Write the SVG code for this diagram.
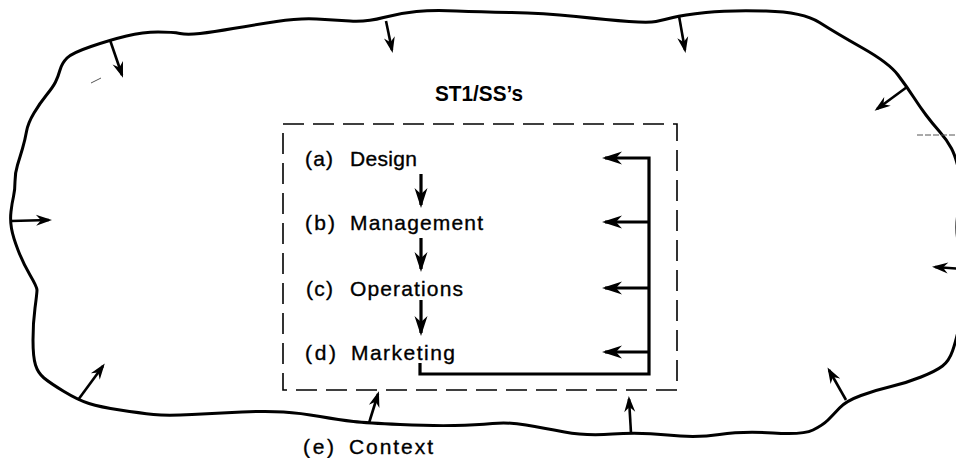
<svg xmlns="http://www.w3.org/2000/svg" width="956" height="458" viewBox="0 0 956 458">
  <style>
    .outline { fill: none; stroke: #000; stroke-width: 3; stroke-linejoin: round; stroke-linecap: round; }
    .boundary { fill: none; stroke: #000; stroke-width: 1.6; stroke-dasharray: 21 9; }
    .flow { fill: none; stroke: #000; stroke-width: 3.2; }
    .push { fill: none; stroke: #000; stroke-width: 2.6; }
    .lbl { font-family: "Liberation Sans", Arial, sans-serif; font-size: 21px; fill: #000; stroke: #000; stroke-width: 0.35; }
    .title { font-family: "Liberation Sans", Arial, sans-serif; font-size: 22px; font-weight: bold; fill: #000; }
    .speck { fill: none; stroke: #555; stroke-width: 1; }
  </style>
  <defs>
    <marker id="head" markerUnits="userSpaceOnUse" markerWidth="28" markerHeight="16" viewBox="-24 -8 28 16" refX="0" refY="0" orient="auto">
      <path d="M3,0 L-17,-6.5 L-11,0 L-17,6.5 Z" fill="#000"/>
    </marker>
    <marker id="headSmall" markerUnits="userSpaceOnUse" markerWidth="24" markerHeight="14" viewBox="-20 -7 24 14" refX="0" refY="0" orient="auto">
      <path d="M3,0 L-13,-5.5 L-8,0 L-13,5.5 Z" fill="#000"/>
    </marker>
  </defs>

  <!-- environment: the context boundary -->
  <g id="context">
    <path class="outline" d="M91,46.5 Q110,40 126.5,36 Q143,32 158,32 Q173,32 180,33.5 Q187,35 200,33.5 Q213,32 233,28.5 Q253,25 276.5,21.5 Q300,18 316.5,19 Q333,20 350,21 Q367,22 383.5,17.5 Q400,13 416.5,11.5 Q433,10 456.5,11 Q480,12 511.5,12.5 Q543,13 576,16.5 Q609,20 629,21.5 Q649,23 656,21.5 Q663,20 673,17.5 Q683,15 706,12.5 Q729,10 766,11 Q803,12 819.5,22.5 Q836,33 862.5,48 Q889,63 898,75 Q907,87 913.5,97 Q920,107 926,115 Q932,123 939.5,131.5 Q947,140 951.5,148.5 Q956,157 959.5,173.5 Q963,190 959,208 Q955,226 958.5,244 Q962,262 963,283.5 Q964,305 960,323 Q956,341 952.5,351 Q949,361 942.5,366 Q936,371 921,377 Q906,383 891,386.5 Q876,390 861,395.5 Q846,401 839.5,408 Q833,415 828,420 Q823,425 813,430 Q803,435 773,433 Q743,431 719.5,434.5 Q696,438 667.5,435 Q639,432 612.5,434 Q586,436 564.5,432 Q543,428 526,425 Q509,422 492.5,423.5 Q476,425 454.5,425.5 Q433,426 400,424.5 Q367,423 353.5,421.5 Q340,420 320,416.5 Q300,413 283.5,412 Q267,411 242,412 Q217,413 192,414.5 Q167,416 153.5,414.5 Q140,413 120,410 Q100,407 89,403.5 Q78,400 64,391.5 Q50,383 44,378 Q38,373 35.5,365 Q33,357 33,340 Q33,323 35,308 Q37,293 37,290 Q37,287 30,275 Q23,263 18,250 Q13,237 11.5,228.5 Q10,220 11,211.5 Q12,203 13.5,196.5 Q15,190 15,181.5 Q15,173 17.5,165 Q20,157 22.5,148.5 Q25,140 26.5,131.5 Q28,123 34,113 Q40,103 46.5,95 Q53,87 55.5,82 Q58,77 60,70 Q62,63 67,58 Q72,53 91,46.5 Z"/>
    <text class="lbl" x="303" y="454" textLength="31" lengthAdjust="spacing">(e)</text>
    <text class="lbl" x="349" y="454" textLength="84" lengthAdjust="spacing">Context</text>
  </g>

  <!-- the system boundary and its title -->
  <g id="system">
    <rect class="boundary" x="283" y="124" width="394" height="266"/>
    <text class="title" x="435" y="101" textLength="88" lengthAdjust="spacingAndGlyphs">ST1/SS’s</text>
  </g>

  <g id="design">
    <text class="lbl" x="305" y="166" textLength="28" lengthAdjust="spacing">(a)</text>
    <text class="lbl" x="350" y="166" textLength="67" lengthAdjust="spacing">Design</text>
  </g>
  <g id="management">
    <text class="lbl" x="305" y="230" textLength="30" lengthAdjust="spacing">(b)</text>
    <text class="lbl" x="350" y="230" textLength="133" lengthAdjust="spacing">Management</text>
  </g>
  <g id="operations">
    <text class="lbl" x="306" y="296" textLength="27" lengthAdjust="spacing">(c)</text>
    <text class="lbl" x="350" y="296" textLength="113" lengthAdjust="spacing">Operations</text>
  </g>
  <g id="marketing">
    <text class="lbl" x="305" y="360" textLength="31" lengthAdjust="spacing">(d)</text>
    <text class="lbl" x="351" y="360" textLength="104" lengthAdjust="spacing">Marketing</text>
  </g>

  <g id="connectors">
    <!-- stage to stage -->
    <line class="flow" x1="421" y1="174" x2="421" y2="205" marker-end="url(#head)"/>
    <line class="flow" x1="421" y1="238" x2="421" y2="269" marker-end="url(#head)"/>
    <line class="flow" x1="421" y1="300" x2="421" y2="333" marker-end="url(#head)"/>
    <!-- feedback from marketing to every stage -->
    <path class="flow" d="M420,363 V374 H649 V158 H605" marker-end="url(#head)"/>
    <line class="flow" x1="649" y1="222" x2="605" y2="222" marker-end="url(#head)"/>
    <line class="flow" x1="649" y1="288" x2="605" y2="288" marker-end="url(#head)"/>
    <line class="flow" x1="649" y1="352" x2="605" y2="352" marker-end="url(#head)"/>
    <!-- pressures from the context -->
    <line class="push" x1="110" y1="40" x2="122" y2="75" marker-end="url(#headSmall)"/>
    <line class="push" x1="386" y1="21" x2="392" y2="50" marker-end="url(#headSmall)"/>
    <line class="push" x1="679" y1="16" x2="685" y2="50" marker-end="url(#headSmall)"/>
    <line class="push" x1="907" y1="87" x2="877" y2="109" marker-end="url(#headSmall)"/>
    <line class="push" x1="11" y1="221" x2="49" y2="220" marker-end="url(#headSmall)"/>
    <line class="push" x1="963" y1="269" x2="935" y2="267" marker-end="url(#headSmall)"/>
    <line class="push" x1="78" y1="400" x2="103" y2="366" marker-end="url(#headSmall)"/>
    <line class="push" x1="369" y1="423" x2="378" y2="394" marker-end="url(#headSmall)"/>
    <line class="push" x1="631" y1="433" x2="629" y2="399" marker-end="url(#headSmall)"/>
    <line class="push" x1="846" y1="400" x2="829" y2="370" marker-end="url(#headSmall)"/>
  </g>

  <!-- stray printing marks -->
  <path class="speck" d="M91,83 L101,78"/>
  <path class="speck" d="M917,135 H956" stroke-dasharray="6 2"/>
</svg>
